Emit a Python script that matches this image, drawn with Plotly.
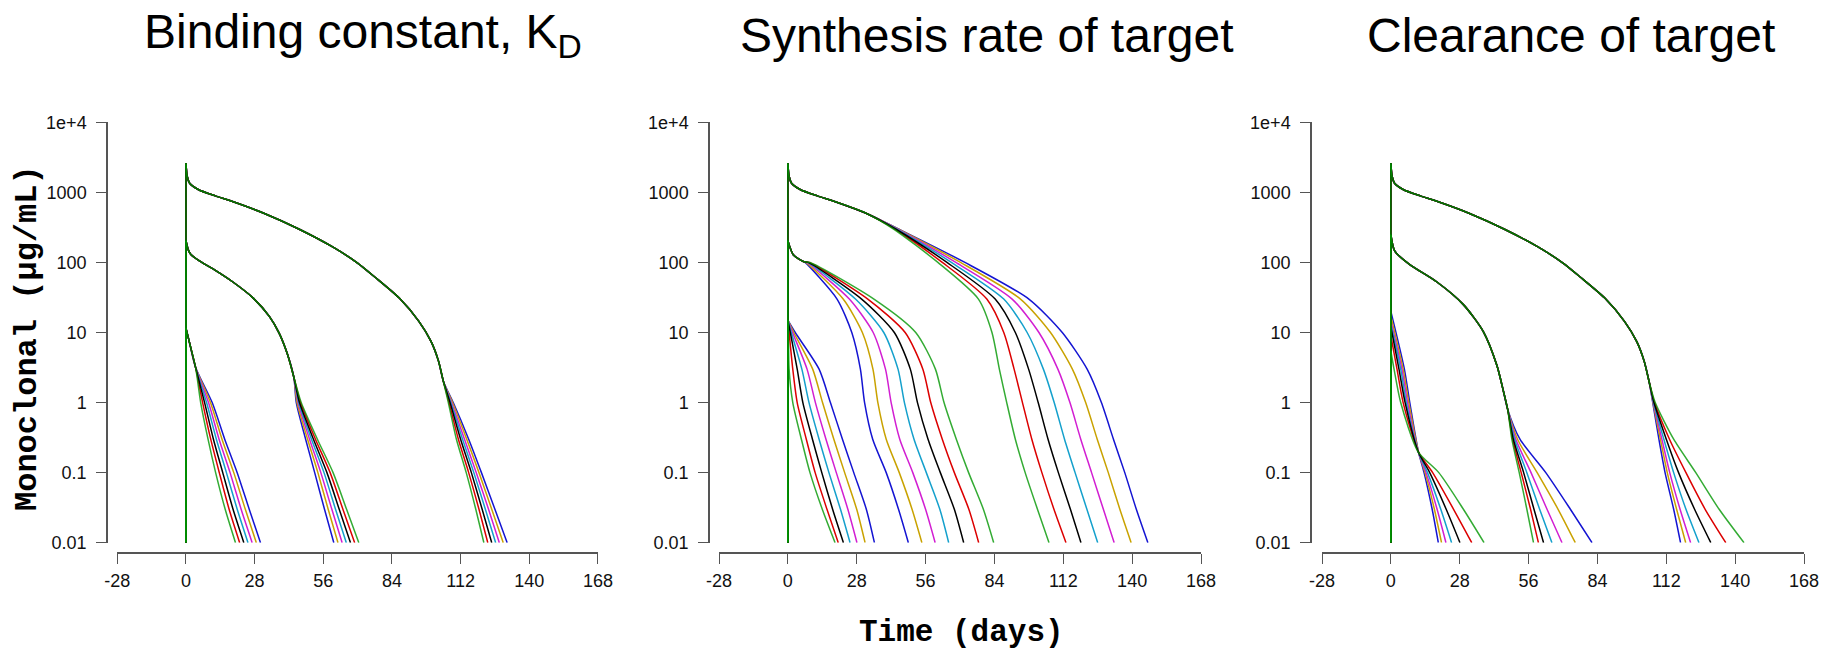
import plotly.graph_objects as go

# ---------------- data ----------------
COLOR_NAMES = ["blue", "gold", "magenta", "cyan", "black", "red", "green"]
COLORS = ["#1414D2", "#C9A200", "#D21ED2", "#14A0CC", "#000000", "#DC0000", "rgba(0,150,0,0.8)"]
DRAW_ORDER = [0, 1, 2, 3, 5, 4, 6]  # green drawn last, over black

TITLES = ["Binding constant, K<sub>D</sub>", "Synthesis rate of target", "Clearance of target"]
X_TICKS = [-28, 0, 28, 56, 84, 112, 140, 168]
Y_TICKS = [0.01, 0.1, 1, 10, 100, 1000, 10000]
Y_TICK_TEXT = ["0.01", "0.1", "1", "10", "100", "1000", "1e+4"]

TAIL_LEVELS = [1, 0.3, 0.1, 0.03, 0.01]

# high dose, common part (panels 1 and 3)
high_head_t = [0, 0, 0.5, 1.5, 5, 12, 19, 32, 46, 60, 70, 77, 87, 95, 100, 103, 105]
high_head_v = [0.01, 2600, 1700, 1350, 1100, 890, 740, 500, 300, 165, 98, 62, 31, 14.4, 7.4, 3.9, 2.0]

# Panel 1: binding constant
kd_high_tail_t = [
    [109.0, 115.3, 120.5, 126.0, 131.0],
    [108.7, 114.5, 119.5, 124.7, 129.4],
    [108.3, 113.6, 118.4, 123.4, 127.8],
    [108.0, 112.8, 117.4, 122.1, 126.3],
    [107.7, 112.0, 116.4, 120.8, 124.7],
    [107.3, 111.1, 115.3, 119.5, 123.1],
    [107.0, 110.3, 114.3, 118.2, 121.5],
]
kd_mid_head_t = [0, 0, 1, 2, 5, 12, 19, 27, 34, 38, 41.3, 44]
kd_mid_head_v = [0.01, 205, 150, 130, 108, 77, 53, 32, 17, 9.8, 5.0, 2.3]
kd_mid_tail_t = [
    [45.0, 48.8, 52.5, 56.5, 60.3],
    [45.3, 49.6, 53.8, 58.0, 62.0],
    [45.7, 50.4, 55.0, 59.5, 63.7],
    [46.0, 51.2, 56.3, 61.0, 65.4],
    [46.3, 52.0, 57.5, 62.5, 67.1],
    [46.7, 52.8, 58.8, 64.0, 68.8],
    [47.0, 53.6, 60.0, 65.5, 70.5],
]
kd_low_head_t = [0, 0, 1.2, 3.9]
kd_low_head_v = [0.01, 11.5, 7.8, 3.2]
kd_low_tail_t = [
    [10.7, 15.8, 20.9, 25.8, 30.4],
    [10.0, 14.7, 19.5, 24.2, 28.7],
    [9.2, 13.5, 18.0, 22.5, 27.0],
    [8.4, 12.4, 16.5, 20.9, 25.3],
    [7.6, 11.2, 15.0, 19.2, 23.6],
    [6.8, 10.1, 13.6, 17.6, 21.9],
    [6.0, 9.0, 12.1, 16.0, 20.2],
]

# Panel 2: synthesis rate of target
syn_high_head_t = [0, 0, 0.5, 1.5, 5, 12, 19, 32]
syn_high_head_v = [0.01, 2600, 1700, 1350, 1100, 890, 740, 500]
syn_high_levels = [300, 100, 30, 10, 3, 1, 0.3, 0.1, 0.03, 0.01]
syn_high_t = [
    [45.0, 72.0, 98.0, 111.6, 121.7, 127.5, 132.4, 137.0, 141.7, 146.4],
    [44.8, 70.2, 94.6, 106.8, 115.7, 121.1, 125.8, 130.3, 135.0, 139.6],
    [44.5, 68.3, 91.2, 102.1, 109.8, 114.7, 119.1, 123.5, 128.3, 132.7],
    [44.2, 66.5, 87.8, 97.3, 103.9, 108.3, 112.5, 116.8, 121.6, 126.0],
    [43.8, 64.7, 84.3, 92.5, 97.9, 101.8, 105.8, 110.0, 114.9, 119.2],
    [43.5, 62.8, 80.9, 87.8, 92.0, 95.4, 99.2, 103.3, 108.2, 113.1],
    [43.0, 61.0, 77.5, 83.0, 86.0, 89.0, 92.5, 96.5, 101.5, 106.2],
]
syn_mid_head_t = [0, 0, 2.2, 6.3]
syn_mid_head_v = [0.01, 205, 129, 103]
syn_mid_levels = [100, 30, 10, 3, 1, 0.3, 0.1, 0.03, 0.01]
syn_mid_t = [
    [7.0, 20.0, 26.0, 29.5, 31.2, 34.5, 40.0, 45.0, 49.0],
    [7.3, 22.5, 30.3, 34.6, 36.6, 40.0, 45.3, 50.5, 54.5],
    [7.7, 25.0, 34.7, 39.7, 42.0, 45.5, 50.8, 56.0, 59.9],
    [8.0, 27.5, 39.0, 44.8, 47.4, 51.3, 56.3, 61.8, 65.4],
    [8.3, 30.0, 43.3, 49.8, 52.7, 57.0, 62.0, 67.7, 71.5],
    [8.7, 32.5, 47.7, 54.9, 58.1, 62.8, 67.7, 73.6, 77.6],
    [9.0, 35.0, 52.0, 60.0, 63.5, 68.5, 73.5, 79.5, 83.7],
]
syn_low_peak = 15
syn_low_levels = [10, 3, 1, 0.3, 0.1, 0.03, 0.01]
syn_low_t = [
    [3.0, 12.7, 17.3, 22.2, 26.8, 31.9, 35.2],
    [2.4, 10.1, 14.1, 18.7, 23.1, 28.0, 31.4],
    [1.9, 7.8, 11.2, 15.5, 19.7, 24.4, 28.1],
    [1.4, 5.7, 8.6, 12.7, 16.7, 21.4, 25.3],
    [1.0, 3.8, 6.1, 10.0, 13.8, 18.2, 22.6],
    [0.5, 2.0, 3.8, 7.5, 11.1, 15.9, 20.5],
    [0.2, 0.5, 2.0, 5.5, 9.0, 14.0, 19.2],
]

# Panel 3: clearance of target
clr_high_tail_t = [
    [106.5, 109.0, 111.5, 115.0, 117.8],
    [106.6, 109.6, 112.4, 116.2, 119.9],
    [106.7, 110.2, 113.4, 117.6, 121.9],
    [106.8, 111.0, 115.0, 120.0, 125.3],
    [107.0, 112.0, 117.0, 123.5, 130.1],
    [107.2, 113.3, 120.0, 127.8, 136.2],
    [107.5, 115.0, 124.0, 133.5, 143.6],
]
clr_mid_head_t = [0, 0, 1.6, 7.7, 18.6, 29.5, 37.6, 43.1, 45.8, 47.5]
clr_mid_head_v = [0.01, 250, 145, 93, 53, 25, 10.3, 3.4, 1.44, 0.8]
clr_mid_levels = [0.3, 0.1, 0.03, 0.01]
clr_mid_tail_t = [
    [52.5, 63.0, 73.0, 81.8],
    [51.5, 59.5, 68.0, 75.0],
    [50.8, 57.0, 63.5, 69.6],
    [50.3, 55.3, 60.5, 65.5],
    [49.8, 54.0, 58.2, 62.1],
    [49.5, 53.0, 56.8, 60.0],
    [49.2, 52.2, 55.3, 58.0],
]
clr_low_peaks = [20, 17, 14.5, 13, 12, 9, 5.4]
clr_low_levels = [3, 1, 0.2, 0.1, 0.03, 0.01]
clr_low_t = [
    [5.5, 7.7, 11.2, 13.5, 16.8, 19.3],
    [5.0, 7.3, 11.2, 13.9, 17.7, 20.6],
    [4.5, 6.8, 11.1, 14.3, 18.8, 22.4],
    [4.0, 6.3, 11.1, 14.9, 20.3, 24.7],
    [3.3, 5.8, 11.1, 15.8, 22.5, 28.1],
    [2.5, 5.0, 11.1, 17.0, 25.5, 32.9],
    [1.3, 4.0, 11.0, 19.5, 29.5, 37.9],
]

# ---------------- build curves ----------------
def curves_for_panel(p):
    out = []  # list of (color index, xs, ys); first two points = vertical dose line
    for i in DRAW_ORDER:
        if p == 0:
            out.append((i, high_head_t + kd_high_tail_t[i], high_head_v + TAIL_LEVELS))
            out.append((i, kd_mid_head_t + kd_mid_tail_t[i], kd_mid_head_v + TAIL_LEVELS))
            out.append((i, kd_low_head_t + kd_low_tail_t[i], kd_low_head_v + TAIL_LEVELS))
        elif p == 1:
            out.append((i, syn_high_head_t + syn_high_t[i], syn_high_head_v + syn_high_levels))
            out.append((i, syn_mid_head_t + syn_mid_t[i], syn_mid_head_v + syn_mid_levels))
            out.append((i, [0, 0] + syn_low_t[i], [0.01, syn_low_peak] + syn_low_levels))
        else:
            out.append((i, high_head_t + clr_high_tail_t[i], high_head_v + TAIL_LEVELS))
            out.append((i, clr_mid_head_t + clr_mid_tail_t[i], clr_mid_head_v + clr_mid_levels))
            out.append((i, [0, 0] + clr_low_t[i], [0.01, clr_low_peaks[i]] + clr_low_levels))
    return out

W, H = 1825, 650

def fx(px):  # page x pixel -> paper fraction
    return px / W

def fy(py):  # page y pixel (from top) -> paper fraction
    return 1 - py / H

x_dom_px = [(117.3, 597.9), (719.0, 1201.0), (1322.0, 1804.0)]
y_axis_px = [107.0, 709.0, 1311.0]
y_top_px, y_bot_px = 122.3, 542.7
x_axis_line_px = 553.0

fig = go.Figure()
AXIS_COLOR = "#555555"
TICK_FONT = dict(family="Liberation Sans, Arial, sans-serif", size=18, color="#111111")

for p in range(3):
    sfx = "" if p == 0 else str(p + 1)
    for i, xs, ys in curves_for_panel(p):
        fig.add_trace(go.Scatter(
            x=xs[:2], y=ys[:2], mode="lines",
            line=dict(color=COLORS[i], width=1.5),
            xaxis="x" + sfx, yaxis="y" + sfx,
            showlegend=False, hoverinfo="skip",
        ))
        fig.add_trace(go.Scatter(
            x=xs[1:], y=ys[1:], mode="lines",
            line=dict(color=COLORS[i], width=1.5, shape="spline", smoothing=0.7),
            xaxis="x" + sfx, yaxis="y" + sfx,
            showlegend=False, hoverinfo="skip",
        ))
    x0, x1 = x_dom_px[p]
    fig.layout["xaxis" + sfx] = dict(
        domain=[fx(x0), fx(x1)], range=[-28, 168], automargin=False,
        anchor="free", position=fy(x_axis_line_px),
        tickmode="array", tickvals=X_TICKS, ticktext=[str(v) for v in X_TICKS],
        ticks="outside", ticklen=10, tickwidth=1.2, tickcolor=AXIS_COLOR,
        showline=True, linecolor=AXIS_COLOR, linewidth=1.5,
        showgrid=False, zeroline=False, tickfont=TICK_FONT,
        ticklabelstandoff=2,
    )
    fig.layout["yaxis" + sfx] = dict(
        domain=[fy(y_bot_px), fy(y_top_px)], type="log", range=[-2, 4], automargin=False,
        anchor="free", position=fx(y_axis_px[p]),
        tickmode="array", tickvals=Y_TICKS, ticktext=Y_TICK_TEXT,
        ticks="outside", ticklen=10, tickwidth=1.2, tickcolor=AXIS_COLOR,
        showline=True, linecolor=AXIS_COLOR, linewidth=1.5,
        showgrid=False, zeroline=False, tickfont=TICK_FONT,
        ticklabelstandoff=6,
    )

title_cx = [362.5, 987.0, 1571.0]
annotations = []
for p in range(3):
    annotations.append(dict(
        text=TITLES[p], x=fx(title_cx[p]), y=fy(35), xref="paper", yref="paper",
        xanchor="center", yanchor="middle", showarrow=False,
        font=dict(family="Liberation Sans, Arial, sans-serif", size=48, color="#000000"),
    ))
annotations.append(dict(
    text="<b>Monoclonal (µg/mL)</b>", x=fx(27), y=fy(338), xref="paper", yref="paper",
    xanchor="center", yanchor="middle", showarrow=False, textangle=-90,
    font=dict(family="Liberation Mono, Courier New, monospace", size=32, color="#000000"),
))
annotations.append(dict(
    text="<b>Time (days)</b>", x=fx(962), y=fy(632), xref="paper", yref="paper",
    xanchor="center", yanchor="middle", showarrow=False,
    font=dict(family="Liberation Mono, Courier New, monospace", size=31, color="#000000"),
))

fig.update_layout(
    width=W, height=H, margin=dict(l=0, r=0, t=0, b=0, autoexpand=False),
    paper_bgcolor="white", plot_bgcolor="white",
    annotations=annotations, showlegend=False,
)

fig.write_html("out.html")
